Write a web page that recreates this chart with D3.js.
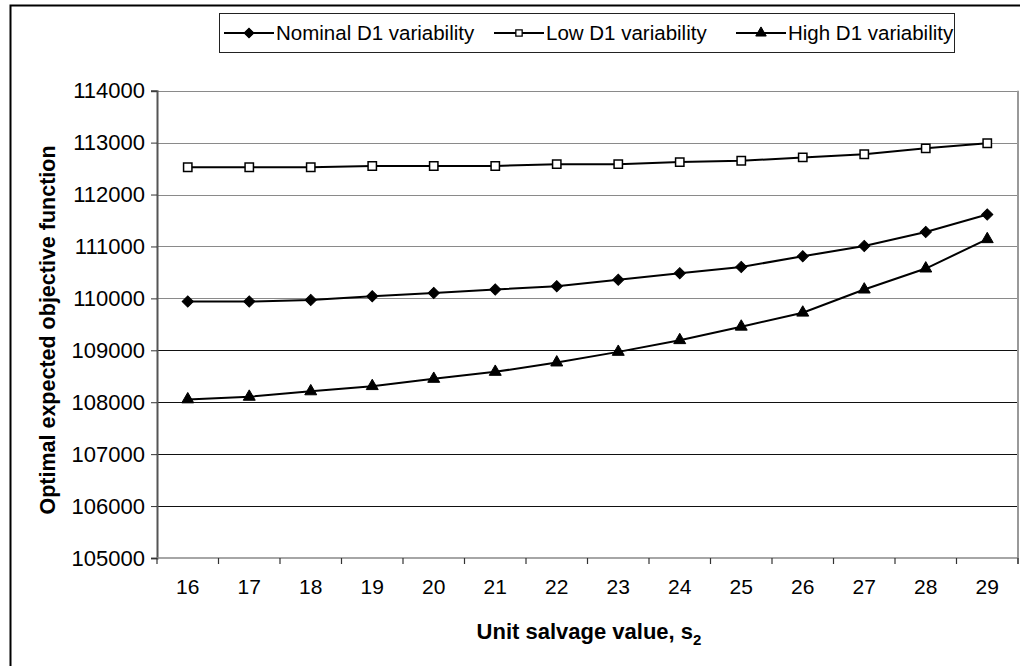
<!DOCTYPE html>
<html>
<head>
<meta charset="utf-8">
<script src="https://cdn.jsdelivr.net/npm/d3@7"></script>
<style>
  body { margin: 0; background: #fff; }
  text { font-family: "Liberation Sans", Arial, sans-serif; }
</style>
</head>
<body>
<div id="chart"></div>
<script>
  const salvage = [16, 17, 18, 19, 20, 21, 22, 23, 24, 25, 26, 27, 28, 29];
  const nominal = [109940, 109940, 109970, 110040, 110105, 110170, 110235, 110360, 110485, 110605, 110810, 111010, 111280, 111615];
  const low = [112525, 112525, 112525, 112550, 112550, 112550, 112585, 112585, 112625, 112650, 112715, 112775, 112890, 112988];
  const high = [108055, 108105, 108210, 108310, 108450, 108585, 108765, 108970, 109195, 109455, 109725, 110170, 110575, 111140];
  const yTicks = [105000, 106000, 107000, 108000, 109000, 110000, 111000, 112000, 113000, 114000];
  const seriesNames = ["Nominal D1 variability", "Low D1 variability", "High D1 variability"];

  const W = 1020, H = 666;
  const plot = { left: 157, right: 1018, top: 90.7, bottom: 558 };

  const svg = d3.select("#chart").append("svg")
    .attr("width", W)
    .attr("height", H);

  // outer chart frame (left and top visible)
  svg.append("path")
    .attr("d", "M10.5," + H + " L10.5,5.5 L" + W + ",5.5")
    .attr("fill", "none")
    .attr("stroke", "#000")
    .attr("stroke-width", 2);

  const x = d3.scaleBand().domain(salvage).range([plot.left, plot.right]).padding(0);
  const y = d3.scaleLinear().domain([105000, 114000]).range([plot.bottom, plot.top]);
  const cx = d => x(d) + x.bandwidth() / 2;

  // gridlines
  svg.append("g").selectAll("line")
    .data(yTicks.slice(1))
    .enter().append("line")
    .attr("x1", plot.left).attr("x2", plot.right)
    .attr("y1", d => Math.round(y(d)) + 0.5).attr("y2", d => Math.round(y(d)) + 0.5)
    .attr("stroke", d => d >= 110000 ? "#8a8a8a" : "#111")
    .attr("stroke-width", 1.2);

  // right border of plot area
  svg.append("line")
    .attr("x1", plot.right).attr("x2", plot.right)
    .attr("y1", plot.top).attr("y2", plot.bottom + 6)
    .attr("stroke", "#999").attr("stroke-width", 2);

  // y axis
  const yAxis = d3.axisLeft(y).tickValues(yTicks).tickSize(6).tickPadding(6).tickFormat(d3.format("d"));
  const gy = svg.append("g")
    .attr("transform", "translate(" + plot.left + ",0)")
    .call(yAxis);
  gy.select(".domain").attr("stroke", "#555").attr("stroke-width", 2);
  gy.selectAll(".tick line").attr("stroke", "#333");
  gy.selectAll(".tick text")
    .style("font-size", "22px")
    .attr("fill", "#000");

  // x axis line
  svg.append("line")
    .attr("x1", plot.left).attr("x2", plot.right)
    .attr("y1", plot.bottom).attr("y2", plot.bottom)
    .attr("stroke", "#888").attr("stroke-width", 1.5);

  // x tick marks at category boundaries
  const bounds = salvage.map(d => x(d)).concat([plot.right]);
  svg.append("g").selectAll("line")
    .data(bounds)
    .enter().append("line")
    .attr("x1", d => d).attr("x2", d => d)
    .attr("y1", plot.bottom).attr("y2", plot.bottom + 6)
    .attr("stroke", "#333").attr("stroke-width", 1.2);

  // x labels
  const xAxis = d3.axisBottom(x).tickSize(0).tickPadding(21);
  const gx = svg.append("g")
    .attr("transform", "translate(0," + plot.bottom + ")")
    .call(xAxis);
  gx.select(".domain").remove();
  gx.selectAll(".tick text").style("font-size", "21px").attr("fill", "#000");

  // axis titles
  const xt = svg.append("text")
    .attr("x", 589)
    .attr("y", 639)
    .attr("text-anchor", "middle")
    .style("font-size", "22px")
    .style("font-weight", "bold");
  xt.append("tspan").text("Unit salvage value, s");
  xt.append("tspan").attr("dy", 6).style("font-size", "15px").text("2");

  svg.append("text")
    .attr("transform", "translate(48,330) rotate(-90)")
    .attr("text-anchor", "middle")
    .attr("dominant-baseline", "central")
    .style("font-size", "21.5px")
    .style("font-weight", "bold")
    .text("Optimal expected objective function");

  // series
  const line = d3.line()
    .x((d, i) => cx(salvage[i]))
    .y(d => y(d));

  const allSeries = [nominal, low, high];
  // diamond = square turned 45 degrees, like the spreadsheet marker
  const symbols = [d3.symbolSquare, d3.symbolSquare, d3.symbolTriangle];
  const rotations = [45, 0, 0];
  const sizes = [62, 70, 62];
  const fills = ["#000", "#fff", "#000"];

  allSeries.forEach(function(vals) {
    svg.append("path")
      .datum(vals)
      .attr("d", line)
      .attr("fill", "none")
      .attr("stroke", "#000")
      .attr("stroke-width", 2);
  });

  allSeries.forEach(function(vals, k) {
    svg.append("g").selectAll("path")
      .data(vals)
      .enter().append("path")
      .attr("transform", (d, i) => "translate(" + cx(salvage[i]) + "," + y(d) + ") rotate(" + rotations[k] + ")")
      .attr("d", d3.symbol().type(symbols[k]).size(sizes[k]))
      .attr("fill", fills[k])
      .attr("stroke", "#000")
      .attr("stroke-width", k === 1 ? 1.5 : 1);
  });

  // legend
  const lg = svg.append("g");
  lg.append("rect")
    .attr("x", 219.5).attr("y", 13.5)
    .attr("width", 735).attr("height", 39)
    .attr("fill", "#fff")
    .attr("stroke", "#222")
    .attr("stroke-width", 1);

  const legendX = [224, 494, 736];
  seriesNames.forEach(function(name, k) {
    const g = lg.append("g").attr("transform", "translate(" + legendX[k] + ",33)");
    g.append("line")
      .attr("x1", 0).attr("x2", 50)
      .attr("stroke", "#000").attr("stroke-width", 2);
    g.append("path")
      .attr("transform", "translate(25,0) rotate(" + rotations[k] + ")")
      .attr("d", d3.symbol().type(symbols[k]).size(k === 1 ? 40 : 48))
      .attr("fill", fills[k])
      .attr("stroke", "#000")
      .attr("stroke-width", k === 1 ? 1.3 : 1);
    g.append("text")
      .attr("x", 52)
      .attr("dy", "0.35em")
      .style("font-size", "20.5px")
      .text(name);
  });
</script>
</body>
</html>
